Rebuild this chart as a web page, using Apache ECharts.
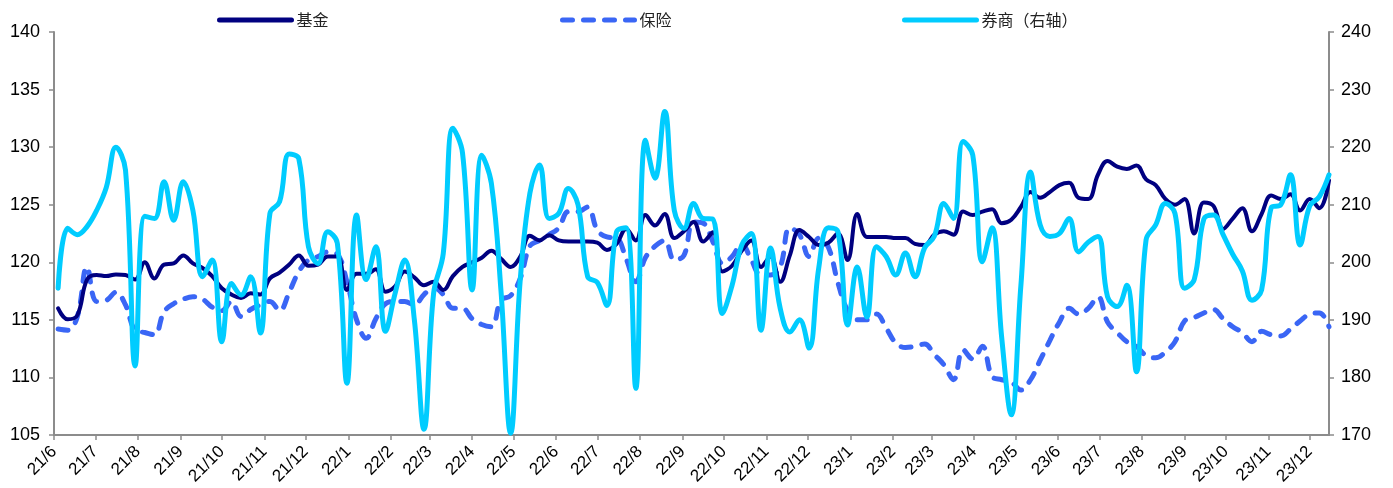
<!DOCTYPE html>
<html><head><meta charset="utf-8">
<script src="https://cdn.jsdelivr.net/npm/echarts@6/dist/echarts.min.js"></script>
<style>html,body{margin:0;padding:0;background:#fff}#c{width:1393px;height:488px}</style>
</head><body><div id="c"></div>
<script>
// weekly dates (Fridays) 2021-06-04 .. 2023-12-15
const firstDate = '2021-06-04';
const weeks = 133;
const dates = [];
(function(){ const d0 = new Date(firstDate + 'T00:00:00'); for (let i = 0; i < weeks; i++) { const d = new Date(d0.getTime()); d.setDate(d0.getDate() + 7 * i); dates.push(d.getFullYear() + '-' + String(d.getMonth()+1).padStart(2,'0') + '-' + String(d.getDate()).padStart(2,'0')); } })();

const seriesNames = ['基金', '保险', '券商（右轴）'];

const fund = [116.0,115.05,115.4,118.5,118.9,118.8,118.95,118.9,118.5,120.0,118.6,119.8,119.9,120.6,119.9,119.5,118.8,117.74,117.2,116.9,117.3,117.2,118.6,119.1,119.8,120.6,119.7,119.8,120.5,120.5,117.6,119.0,119.0,119.4,117.45,117.9,119.2,118.7,118.0,118.3,117.6,118.8,119.6,120.0,120.4,121.0,120.3,119.6,120.5,122.3,121.9,122.35,121.9,121.8,121.8,121.8,121.7,121.07,121.6,122.9,121.9,124.1,123.2,124.2,122.1,122.7,123.5,121.8,122.6,119.2,119.7,121.0,121.9,119.6,120.5,118.3,120.6,122.8,122.2,121.5,121.7,122.5,120.2,124.2,122.2,122.2,122.2,122.1,122.1,121.6,121.5,122.4,122.7,122.4,124.4,124.1,124.4,124.6,123.4,123.7,124.8,126.1,125.6,126.1,126.7,126.9,125.6,125.5,127.6,128.8,128.3,128.1,128.4,127.2,126.7,125.5,125.0,125.5,122.5,125.2,124.9,122.9,123.8,124.7,122.7,124.2,125.8,125.5,125.9,124.5,125.5,124.7,127.1];

const insurance = [114.2,114.1,115.3,119.6,116.6,116.7,117.4,116.3,114.1,113.9,113.7,115.7,116.4,116.8,117.0,116.8,116.1,115.8,116.6,115.3,115.9,116.3,116.6,115.8,117.4,119.2,120.2,120.5,120.9,120.7,118.3,115.0,113.4,115.1,116.4,116.6,116.6,116.3,117.2,117.8,117.2,116.0,116.0,115.1,114.6,114.4,116.7,117.1,118.6,121.4,121.9,122.4,123.0,124.4,124.4,124.8,122.8,122.2,122.1,120.3,118.3,120.4,121.4,121.9,120.2,120.6,123.5,123.4,121.8,119.9,120.5,121.6,120.2,118.9,118.9,119.6,123.0,122.4,120.5,122.1,121.3,118.2,115.8,115.0,115.0,115.5,114.3,113.0,112.6,112.7,112.9,112.0,111.1,109.8,112.4,111.6,112.7,110.1,109.8,109.6,108.9,109.8,111.5,113.2,114.8,116.0,115.5,116.0,117.0,114.8,113.9,113.1,112.7,111.9,111.7,112.2,113.1,114.9,115.2,115.6,115.9,115.1,114.4,113.9,113.1,114.0,113.7,113.6,114.2,114.9,115.5,115.6,114.4];

const broker = [195.5,205.9,204.8,206.2,209,213,220,216,182,208,207.6,214,207.3,214,209,197.5,200.4,186.2,196.3,194.3,197.5,187.7,208.5,210.5,218.8,218,202.7,199.8,205.3,203.3,179,208.2,197,202.7,188,194.6,200.4,190,171,194.6,201.5,223.3,219,195.2,218.6,213.7,195,170.3,197,212,216.9,207.6,208.5,212.8,210,197.5,196.5,192.5,205.3,206,178.1,221.2,214.6,226.2,209,205.9,210.2,207.6,207.5,191.1,196,203,205,188.2,202.5,192,187.9,190,185.1,199,206,205.3,189.1,199.2,190.5,202.7,201,197.8,201.6,197.5,202.5,204.5,210.2,207.6,221,218.6,200.1,206,187,173.5,196,215.7,206.5,204.5,205,207.6,201.8,203.5,204.5,194,192.3,196,181,203.9,206.5,210.2,208.5,195.5,197,207.5,208.2,204.8,201.4,198.5,193.4,195.2,209.5,210,215.2,203,209.8,211.4,215.2];

const leftTicks = {min: 105, max: 140, interval: 5};
const rightTicks = {min: 170, max: 240, interval: 10};
const xRange = {min: '2021-06-01', max: '2023-12-15'};

const pair = arr => dates.map((d, i) => [d, arr[i]]);

const colors = {fund: '#000080', insurance: '#3a66f5', broker: '#00ccff'};
const axisGray = '#8c8c8c';
const labelFont = {color: '#000', fontFamily: 'Liberation Sans, Arial, sans-serif', fontSize: 18};
const legendText = {fontFamily: 'Noto Sans CJK SC', fontSize: 16, color: '#222'};

const chart = echarts.init(document.getElementById('c'), null, {renderer: 'canvas'});
chart.setOption({
  animation: false,
  backgroundColor: '#fff',
  legend: [
    {data: [seriesNames[0]], left: 212, top: 7, itemWidth: 72, itemHeight: 12, itemGap: 6, textStyle: legendText,
     itemStyle: {opacity: 0}, lineStyle: {width: 5, cap: 'round'}},
    {data: [seriesNames[1]], left: 555, top: 7, itemWidth: 72, itemHeight: 12, itemGap: 6, textStyle: legendText,
     itemStyle: {opacity: 0}, lineStyle: {width: 5, cap: 'round', type: [10, 11]}},
    {data: [seriesNames[2]], left: 897, top: 7, itemWidth: 72, itemHeight: 12, itemGap: 6, textStyle: legendText,
     itemStyle: {opacity: 0}, lineStyle: {width: 5, cap: 'round'}}
  ],
  grid: {left: 54, right: 64, top: 32, bottom: 53, containLabel: false},
  xAxis: {
    type: 'time', min: xRange.min, max: xRange.max, splitNumber: 30,
    minInterval: 28 * 86400000, maxInterval: 31 * 86400000,
    axisLine: {lineStyle: {color: axisGray, width: 2}},
    axisTick: {show: true, length: 5, lineStyle: {color: axisGray, width: 1.5}},
    minorTick: {show: false},
    splitLine: {show: false},
    axisLabel: {
      rotate: 45, margin: 14, fontSize: 17, color: '#000', fontFamily: 'Liberation Sans, Arial, sans-serif',
      hideOverlap: false, showMinLabel: true, showMaxLabel: false,
      formatter: function (v) { const d = new Date(v); return String(d.getFullYear()).slice(2) + '/' + (d.getMonth() + 1); }
    }
  },
  yAxis: [
    {type: 'value', min: leftTicks.min, max: leftTicks.max, interval: leftTicks.interval, position: 'left',
     axisLine: {show: true, lineStyle: {color: axisGray, width: 2}},
     axisTick: {show: true, length: 5, lineStyle: {color: axisGray, width: 1.5}},
     splitLine: {show: false}, axisLabel: Object.assign({margin: 14}, labelFont)},
    {type: 'value', min: rightTicks.min, max: rightTicks.max, interval: rightTicks.interval, position: 'right',
     axisLine: {show: true, lineStyle: {color: axisGray, width: 2}},
     axisTick: {show: true, length: 5, lineStyle: {color: axisGray, width: 1.5}},
     splitLine: {show: false}, axisLabel: Object.assign({margin: 12}, labelFont)}
  ],
  series: [
    {name: seriesNames[1], type: 'line', yAxisIndex: 0, data: pair(insurance), symbol: 'none', smooth: 0.4, z: 2,
     lineStyle: {color: colors.insurance, width: 5, type: [10, 11], cap: 'round'}, itemStyle: {color: colors.insurance}},
    {name: seriesNames[0], type: 'line', yAxisIndex: 0, data: pair(fund), symbol: 'none', smooth: 0.4, z: 3,
     lineStyle: {color: colors.fund, width: 4, cap: 'round'}, itemStyle: {color: colors.fund}},
    {name: seriesNames[2], type: 'line', yAxisIndex: 1, data: pair(broker), symbol: 'none', smooth: 0.4, z: 4,
     lineStyle: {color: colors.broker, width: 5, cap: 'round'}, itemStyle: {color: colors.broker}}
  ]
});
</script></body></html>
